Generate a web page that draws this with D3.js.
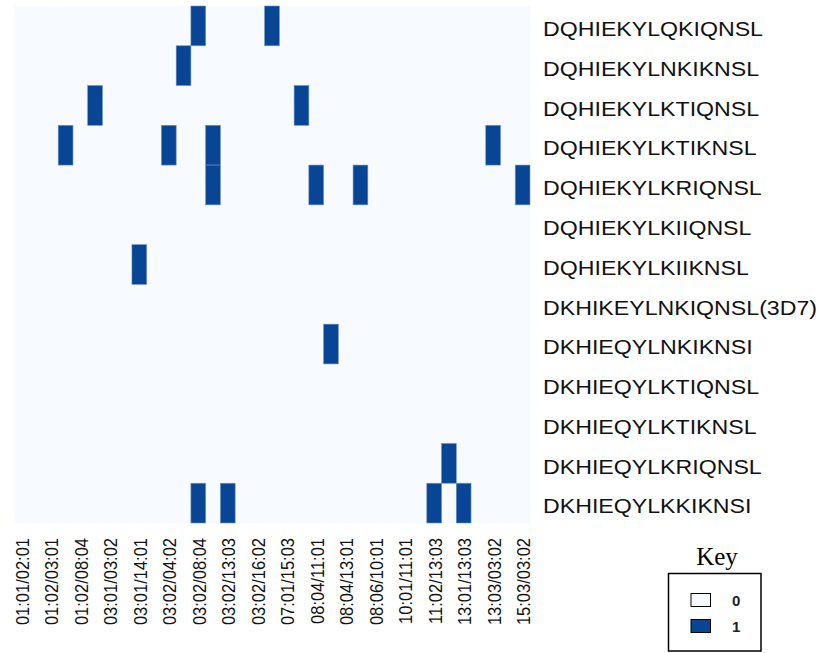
<!DOCTYPE html>
<html>
<head>
<meta charset="utf-8">
<script src="https://cdn.jsdelivr.net/npm/d3@7"></script>
<style>
  html, body { margin: 0; padding: 0; background: #ffffff; }
  svg { display: block; }
</style>
</head>
<body>
<svg id="chart" width="825" height="653"></svg>
<script>
// Peptide variants (rows, top to bottom)
const rowLabels = [
  "DQHIEKYLQKIQNSL",
  "DQHIEKYLNKIKNSL",
  "DQHIEKYLKTIQNSL",
  "DQHIEKYLKTIKNSL",
  "DQHIEKYLKRIQNSL",
  "DQHIEKYLKIIQNSL",
  "DQHIEKYLKIIKNSL",
  "DKHIKEYLNKIQNSL(3D7)",
  "DKHIEQYLNKIKNSI",
  "DKHIEQYLKTIQNSL",
  "DKHIEQYLKTIKNSL",
  "DKHIEQYLKRIQNSL",
  "DKHIEQYLKKIKNSI"
];

// Column tick labels (every second column is labelled)
const xTickLabels = [
  "01:01/02:01", "01:02/03:01", "01:02/08:04", "03:01/03:02",
  "03:01/14:01", "03:02/04:02", "03:02/08:04", "03:02/13:03",
  "03:02/16:02", "07:01/15:03", "08:04/11:01", "08:04/13:01",
  "08:06/10:01", "10:01/11:01", "11:02/13:03", "13:01/13:03",
  "13:03/03:02", "15:03/03:02"
];

const nCols = 35;

// Presence (1) / absence (0) per row, 35 columns each
const row00 = [0,0,0,0,0, 0,0,0,0,0, 0,0,1,0,0, 0,0,1,0,0, 0,0,0,0,0, 0,0,0,0,0, 0,0,0,0,0];
const row01 = [0,0,0,0,0, 0,0,0,0,0, 0,1,0,0,0, 0,0,0,0,0, 0,0,0,0,0, 0,0,0,0,0, 0,0,0,0,0];
const row02 = [0,0,0,0,0, 1,0,0,0,0, 0,0,0,0,0, 0,0,0,0,1, 0,0,0,0,0, 0,0,0,0,0, 0,0,0,0,0];
const row03 = [0,0,0,1,0, 0,0,0,0,0, 1,0,0,1,0, 0,0,0,0,0, 0,0,0,0,0, 0,0,0,0,0, 0,0,1,0,0];
const row04 = [0,0,0,0,0, 0,0,0,0,0, 0,0,0,1,0, 0,0,0,0,0, 1,0,0,1,0, 0,0,0,0,0, 0,0,0,0,1];
const row05 = [0,0,0,0,0, 0,0,0,0,0, 0,0,0,0,0, 0,0,0,0,0, 0,0,0,0,0, 0,0,0,0,0, 0,0,0,0,0];
const row06 = [0,0,0,0,0, 0,0,0,1,0, 0,0,0,0,0, 0,0,0,0,0, 0,0,0,0,0, 0,0,0,0,0, 0,0,0,0,0];
const row07 = [0,0,0,0,0, 0,0,0,0,0, 0,0,0,0,0, 0,0,0,0,0, 0,0,0,0,0, 0,0,0,0,0, 0,0,0,0,0];
const row08 = [0,0,0,0,0, 0,0,0,0,0, 0,0,0,0,0, 0,0,0,0,0, 0,1,0,0,0, 0,0,0,0,0, 0,0,0,0,0];
const row09 = [0,0,0,0,0, 0,0,0,0,0, 0,0,0,0,0, 0,0,0,0,0, 0,0,0,0,0, 0,0,0,0,0, 0,0,0,0,0];
const row10 = [0,0,0,0,0, 0,0,0,0,0, 0,0,0,0,0, 0,0,0,0,0, 0,0,0,0,0, 0,0,0,0,0, 0,0,0,0,0];
const row11 = [0,0,0,0,0, 0,0,0,0,0, 0,0,0,0,0, 0,0,0,0,0, 0,0,0,0,0, 0,0,0,0,1, 0,0,0,0,0];
const row12 = [0,0,0,0,0, 0,0,0,0,0, 0,0,1,0,1, 0,0,0,0,0, 0,0,0,0,0, 0,0,0,1,0, 1,0,0,0,0];

const presence = [row00, row01, row02, row03, row04, row05, row06,
                  row07, row08, row09, row10, row11, row12];

const keyValues = [0, 1];
const keyColors = ["#f7fbff", "#084594"];

// Layout of the heat map area
const plotLeft = 14, plotRight = 530, plotTop = 6, plotBottom = 523;
// Labels are set slightly wide
const stretch = 1.13;

const svg = d3.select("#chart");

const x = d3.scaleBand().domain(d3.range(nCols)).range([plotLeft, plotRight]).padding(0);
const y = d3.scaleBand().domain(d3.range(rowLabels.length)).range([plotTop, plotBottom]).padding(0);
const color = d3.scaleOrdinal().domain(keyValues).range(keyColors);

// Cells
const cells = [];
presence.forEach((row, r) => row.forEach((v, c) => cells.push({ r, c, v })));

// Light background cells first, then filled cells on top
svg.append("g")
  .selectAll("rect")
  .data(cells.filter(d => d.v === 0))
  .join("rect")
  .attr("x", d => x(d.c))
  .attr("y", d => y(d.r))
  .attr("width", x.bandwidth() + 0.5)
  .attr("height", y.bandwidth() + 0.5)
  .attr("fill", d => color(d.v));

svg.append("g")
  .selectAll("rect")
  .data(cells.filter(d => d.v === 1))
  .join("rect")
  .attr("x", d => x(d.c))
  .attr("y", d => y(d.r))
  .attr("width", x.bandwidth())
  .attr("height", y.bandwidth())
  .attr("fill", d => color(d.v))
  .attr("stroke", "#6f8fc4")
  .attr("stroke-width", 0.6);

// Row labels on the right
const yAxis = d3.axisRight(y)
  .tickSize(0)
  .tickPadding(0)
  .tickFormat(i => rowLabels[i]);

const gy = svg.append("g")
  .attr("transform", `translate(${plotRight + 13},0)`)
  .call(yAxis);
gy.select(".domain").remove();
gy.selectAll("text")
  .attr("font-family", "Liberation Sans, Arial, sans-serif")
  .attr("font-size", 20.5)
  .attr("fill", "#111")
  .attr("x", 0)
  .attr("dy", "0.5em")
  .attr("transform", `scale(${stretch},1)`);

// Column labels, rotated, every second column
const xAxis = d3.axisBottom(x)
  .tickValues(d3.range(0, nCols, 2))
  .tickSize(0)
  .tickFormat(i => xTickLabels[i / 2]);

const gx = svg.append("g")
  .attr("transform", `translate(0,${plotBottom})`)
  .call(xAxis);
gx.select(".domain").remove();
gx.selectAll("text")
  .attr("font-family", "Liberation Sans, Arial, sans-serif")
  .attr("font-size", 16.5)
  .attr("fill", "#111")
  .attr("text-anchor", "end")
  .attr("transform", `scale(${stretch},1) rotate(-90)`)
  .attr("x", -15)
  .attr("y", 0)
  .attr("dx", 0)
  .attr("dy", "0.4em");

// Key
const key = svg.append("g");
key.append("text")
  .attr("x", 717)
  .attr("y", 565)
  .attr("text-anchor", "middle")
  .attr("font-family", "Liberation Serif, Times New Roman, serif")
  .attr("font-size", 25)
  .attr("fill", "#000")
  .text("Key");

key.append("rect")
  .attr("x", 668.5)
  .attr("y", 573.5)
  .attr("width", 92.5)
  .attr("height", 77.5)
  .attr("fill", "none")
  .attr("stroke", "#000")
  .attr("stroke-width", 1.5);

const keyRow = d3.scaleBand().domain(keyValues).range([587, 639]);

key.selectAll("rect.sw")
  .data(keyValues)
  .join("rect")
  .attr("class", "sw")
  .attr("x", 691)
  .attr("y", d => keyRow(d) + keyRow.bandwidth() / 2 - 6.5)
  .attr("width", 19.5)
  .attr("height", 13)
  .attr("fill", d => color(d))
  .attr("stroke", "#000")
  .attr("stroke-width", 1);

key.selectAll("text.kl")
  .data(keyValues)
  .join("text")
  .attr("class", "kl")
  .attr("x", 732)
  .attr("y", d => keyRow(d) + keyRow.bandwidth() / 2 + 5.5)
  .attr("font-family", "Liberation Sans, Arial, sans-serif")
  .attr("font-size", 15)
  .attr("font-weight", "bold")
  .attr("fill", "#222")
  .text(d => d);
</script>
</body>
</html>
